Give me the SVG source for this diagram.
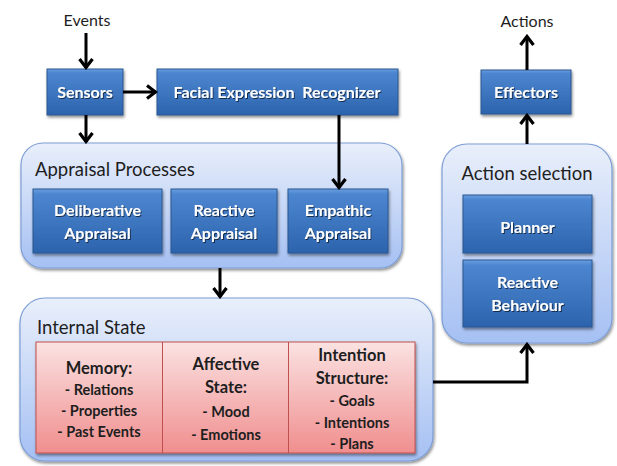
<svg xmlns="http://www.w3.org/2000/svg" width="617" height="466" viewBox="0 0 617 466">
  <defs>
    <linearGradient id="gBlue" x1="0" y1="0" x2="0" y2="1">
      <stop offset="0" stop-color="#6a9fe0"/>
      <stop offset="0.08" stop-color="#4d86d0"/>
      <stop offset="1" stop-color="#2c63ad"/>
    </linearGradient>
    <linearGradient id="gCont" x1="0" y1="0" x2="0" y2="1">
      <stop offset="0" stop-color="#e9effb"/>
      <stop offset="1" stop-color="#a5c0f3"/>
    </linearGradient>
    <linearGradient id="gPink" x1="0" y1="0" x2="0" y2="1">
      <stop offset="0" stop-color="#fbe2e2"/>
      <stop offset="1" stop-color="#f08e8e"/>
    </linearGradient>
    <filter id="shadow" x="-10%" y="-10%" width="125%" height="130%">
      <feGaussianBlur in="SourceAlpha" stdDeviation="1.5"/>
      <feOffset dx="1" dy="2" result="b"/>
      <feComponentTransfer><feFuncA type="linear" slope="0.45"/></feComponentTransfer>
      <feMerge><feMergeNode/><feMergeNode in="SourceGraphic"/></feMerge>
    </filter>
    <filter id="tshadow" x="-10%" y="-20%" width="120%" height="150%">
      <feGaussianBlur in="SourceAlpha" stdDeviation="0.6"/>
      <feOffset dx="0.8" dy="1" result="b"/>
      <feComponentTransfer><feFuncA type="linear" slope="0.6"/></feComponentTransfer>
      <feMerge><feMergeNode/><feMergeNode in="SourceGraphic"/></feMerge>
    </filter>
    <marker id="arr" viewBox="0 0 14 16" refX="12" refY="8" markerWidth="14" markerHeight="16" markerUnits="userSpaceOnUse" orient="auto">
      <path d="M3,1.5 L11.5,8 L3,14.5" fill="none" stroke="#000" stroke-width="3.2"/>
    </marker>
  </defs>
  <style>
    .box { fill: url(#gBlue); stroke: #2a5690; stroke-width: 1; filter: url(#shadow); }
    .cont { fill: url(#gCont); stroke: #7d9ed6; stroke-width: 1.2; filter: url(#shadow); }
    .pink { fill: url(#gPink); stroke: #c0504d; stroke-width: 1; filter: url(#shadow); }
    .bt { font-family: Lato, "Liberation Sans", sans-serif; font-weight: bold; font-size: 16px; fill: #ffffff; text-anchor: middle; filter: url(#tshadow); }
    .title { font-family: Lato, "Liberation Sans", sans-serif; font-size: 18.5px; fill: #1e1e1e; }
    .lbl { font-family: Lato, "Liberation Sans", sans-serif; font-size: 16px; fill: #1e1e1e; text-anchor: middle; }
    .ph { font-family: Lato, "Liberation Sans", sans-serif; font-weight: bold; font-size: 16.5px; fill: #1e1e1e; text-anchor: middle; }
    .pi { font-family: Lato, "Liberation Sans", sans-serif; font-weight: bold; font-size: 14.5px; fill: #1e1e1e; text-anchor: middle; }
    .conn { fill: none; stroke: #000; stroke-width: 3; marker-end: url(#arr); }
  </style>

  <g id="events"><text class="lbl" x="87" y="26">Events</text></g>
  <g id="actions"><text class="lbl" x="527" y="27">Actions</text></g>

  <g id="sensors">
    <rect class="box" x="47" y="69" width="76" height="46"/>
    <text class="bt" x="85" y="98">Sensors</text>
  </g>
  <g id="facial">
    <rect class="box" x="157" y="69" width="241" height="46"/>
    <text class="bt" x="277" y="98" xml:space="preserve">Facial Expression  Recognizer</text>
  </g>
  <g id="effectors">
    <rect class="box" x="481" y="70" width="90" height="44"/>
    <text class="bt" x="526" y="98">Effectors</text>
  </g>

  <g id="appraisal">
    <rect class="cont" x="21" y="143" width="381" height="125" rx="22"/>
    <text class="title" x="35" y="176">Appraisal Processes</text>
    <g id="deliberative">
      <rect class="box" x="33" y="189" width="129" height="64"/>
      <text class="bt" x="97.5" y="216">Deliberative</text>
      <text class="bt" x="97.5" y="239">Appraisal</text>
    </g>
    <g id="reactive-appraisal">
      <rect class="box" x="171" y="189" width="106" height="64"/>
      <text class="bt" x="224" y="216">Reactive</text>
      <text class="bt" x="224" y="239">Appraisal</text>
    </g>
    <g id="empathic">
      <rect class="box" x="288" y="189" width="100" height="64"/>
      <text class="bt" x="338" y="216">Empathic</text>
      <text class="bt" x="338" y="239">Appraisal</text>
    </g>
  </g>

  <g id="action-selection">
    <rect class="cont" x="442" y="144" width="170" height="199" rx="25"/>
    <text class="title" x="527" y="180" text-anchor="middle">Action selection</text>
    <g id="planner">
      <rect class="box" x="463" y="195" width="129" height="58"/>
      <text class="bt" x="527.5" y="233">Planner</text>
    </g>
    <g id="reactive-behaviour">
      <rect class="box" x="463" y="260" width="129" height="67"/>
      <text class="bt" x="527.5" y="288">Reactive</text>
      <text class="bt" x="527.5" y="311">Behaviour</text>
    </g>
  </g>

  <g id="internal-state">
    <rect class="cont" x="20" y="298" width="413" height="163" rx="25"/>
    <text class="title" x="37" y="334">Internal State</text>
    <rect class="pink" x="36" y="342" width="379" height="111"/>
    <line x1="162.5" y1="342" x2="162.5" y2="453" stroke="#c0504d" stroke-width="1"/>
    <line x1="288.5" y1="342" x2="288.5" y2="453" stroke="#c0504d" stroke-width="1"/>
    <g id="memory">
      <text class="ph" x="99" y="374">Memory:</text>
      <text class="pi" x="99" y="395">- Relations</text>
      <text class="pi" x="99" y="416">- Properties</text>
      <text class="pi" x="99" y="437">- Past Events</text>
    </g>
    <g id="affective">
      <text class="ph" x="226" y="370">Affective</text>
      <text class="ph" x="226" y="393">State:</text>
      <text class="pi" x="226" y="417">- Mood</text>
      <text class="pi" x="226" y="440">- Emotions</text>
    </g>
    <g id="intention">
      <text class="ph" x="352" y="361">Intention</text>
      <text class="ph" x="352" y="384">Structure:</text>
      <text class="pi" x="352" y="406">- Goals</text>
      <text class="pi" x="352" y="428">- Intentions</text>
      <text class="pi" x="352" y="449">- Plans</text>
    </g>
  </g>

  <g id="connectors">
    <path class="conn" d="M86,33 L86,68"/>
    <path class="conn" d="M123,92 L156,92"/>
    <path class="conn" d="M86,115 L86,142"/>
    <path class="conn" d="M339,115 L339,188"/>
    <path class="conn" d="M220,268 L220,297"/>
    <path class="conn" d="M433,382 L527,382 L527,344"/>
    <path class="conn" d="M527,144 L527,115"/>
    <path class="conn" d="M527,70 L527,36"/>
  </g>
</svg>
